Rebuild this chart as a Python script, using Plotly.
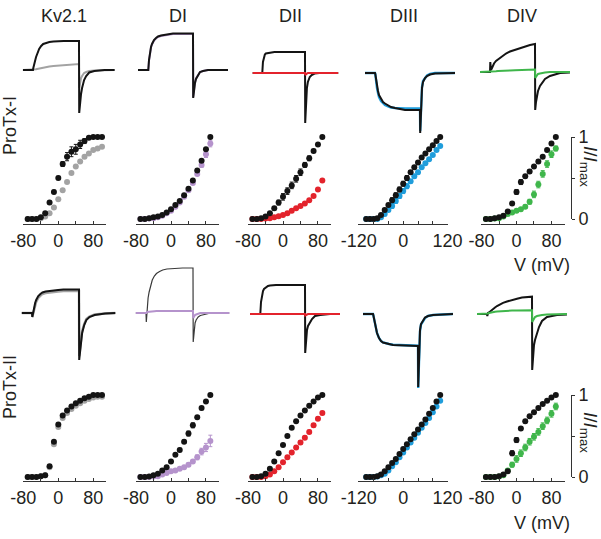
import plotly.graph_objects as go

W, H = 601, 539

# ---------------- current traces (time in ms, current in arbitrary units, + = outward) ----------------
T_MS = [0, 9.9, 10, 10.3, 11, 12, 13, 14, 16, 18, 20, 23, 26, 30, 35, 40, 45, 50, 55,
        55.2, 56, 57, 58, 60, 62, 65, 70, 80, 90]

# ProTx-I row
KV_I_CTRL = [2, 2, 2, 4, 6, 11, 15, 18, 23, 26, 28, 29, 30, 30.5, 31, 31, 31, 31, 31,
             -41, -31, -22, -16, -8, -4, -0.5, 1, 2, 2]
KV_I_TOX = [2, 2, 2, 2, 2, 2.5, 2.7, 3, 3.5, 4, 4.5, 5, 5.5, 6, 6.5, 7, 7.5, 7.8, 8,
            -16, -10, -6, -4, -1, 0, 1, 1.5, 2, 2]
DI_I_CTRL = [2, 2, 2, 2, 12, 20, 25, 28, 32, 34, 35.5, 36.5, 37, 38, 38.5, 38.5, 38.5, 38.5, 38.5,
             -26, -18, -11, -7, -3, 0, 1, 2, 2, 2]
DI_I_TOX = [2, 2, 2, 2, 11.5, 19.5, 24.5, 27.5, 31.5, 33.5, 35, 36, 36.5, 37.5, 38, 38, 38, 38, 38,
            -25, -17, -10.5, -6.5, -2.5, 0, 1, 2, 2, 2]
DII_I_CTRL = [-1, -1, -1, -1, 10, 15.5, 17.5, 18.5, 19, 19.5, 20, 20, 20, 20, 20, 20, 20, 20, 20,
              -51, -28, -16, -10, -5, -3, -1.5, -1, -1, -1]
DII_I_TOX = [-1, -1, -1, -1, -1.5, -1, -1, -1, -1, -1, -1, -1, -1, -1, -1, -1, -1, -1, -1,
             -3, -2, -1.5, -1, -1, -1, -1, -1, -1, -1]
DIII_I_CTRL = [-1, -1, -1, -2, -7, -14, -19, -23, -27, -30, -31.5, -33.5, -35, -36, -37, -38, -38, -38, -38,
               -61, -28, -16, -10, -6, -4, -2.5, -1.5, -1, -1]
DIII_I_TOX = [-1, -1, -1, -2, -9, -16, -21, -25, -29, -31.5, -33, -34.5, -35.5, -36, -36.5, -36.5, -36.5, -36.5, -36.5,
              -59, -27, -15, -9, -5.5, -3.5, -2, -1, -1, -1]
DIV_I_CTRL = [0, 0, 0, 10, 2, 4, 7, 8.5, 11, 12.5, 13.7, 16, 18.5, 20.5, 22.2, 23.7, 25.5, 27, 28,
              -38, -30, -23, -19, -14, -11, -7, -4, -1, -0.5]
DIV_I_TOX = [0, 0, 0, 0, 0, 0.2, 0.4, 0.5, 0.7, 1, 1, 1.2, 1.4, 1.5, 1.8, 2, 2.2, 2.4, 2.5,
             -6, -5, -3, -2, -1.5, -1, -0.5, 0, 0, 0]

# ProTx-II row
KV_II_CTRL = [1, 1, 1, -3, 1, 7, 11, 14, 18, 20, 21.5, 22.5, 23, 23.5, 24, 24.5, 24.5, 24.5, 24.5,
              -46, -36, -26, -19, -11, -6, -3, -1, 0.5, 1]
KV_II_TOX = [1, 1, 1, -3, 0, 5, 9, 12, 16, 18.5, 20, 21, 21.5, 22, 22.5, 23, 23, 23, 23,
             -42, -33, -24, -17, -10, -5, -2.5, -0.5, 0.5, 1]
DI_II_CTRL = [1, 1, 1, -8, 9, 16, 22, 27, 34, 38, 40.5, 42.5, 44, 45, 45.5, 46, 46, 46, 46,
              -28, -16, -9, -6, -3, -1.5, -0.5, 0.5, 1, 1]
DI_II_TOX = [1, 1, 1, 1, 2, 2.2, 2.4, 2.5, 2.7, 2.8, 3, 3, 3, 3, 3, 3, 3, 3, 3,
             -4, -2, -1, -0.5, 0.5, 1, 1, 1, 1, 1]
DII_II_CTRL = [0, 0, 0, 0, 12, 19, 23, 25, 27, 28, 28.5, 29, 29, 29, 29, 29, 29, 29, 29,
               -39, -26, -16, -12, -8, -5, -2, -1, 0, 0]
DII_II_TOX = [0, 0, 0, 0, -0.5, 0, 0, 0, 0, 0, 0, 0, 0, 0, 0, 0, 0, 0, 0,
              -1.5, -1, -0.5, 0, 0, 0, 0, 0, 0, 0]
DIII_II_CTRL = [0, 0, 0, -1, -4, -10, -15, -19, -24, -27, -28.5, -29.5, -30, -31, -31.3, -31.5, -31.7, -31.9, -32,
                -73, -31, -16, -10, -6, -3.5, -2, -1, -0.5, 0]
DIII_II_TOX = [0, 0, 0, -1, -4, -10, -15, -19, -24, -27, -28.5, -29.5, -30, -30.8, -31, -31.2, -31.4, -31.6, -31.7,
               -74, -32, -17, -10.5, -6.5, -4, -2, -1, -0.5, 0]
DIV_II_CTRL = [0, 0, 0, -2, 1, 1.5, 2.5, 3.5, 5, 6.5, 8, 10, 11.2, 12.5, 14.2, 15.3, 16.4, 17, 17.3,
               -56, -43, -31, -26, -19, -13, -7, -3, -1, -0.5]
DIV_II_TOX = [0, 0, 0, 0, 0.5, 1, 1.3, 1.5, 2, 2.3, 2.5, 2.8, 3, 3.2, 3.4, 3.5, 3.6, 3.7, 3.7,
              -8, -6, -4, -3, -2, -1.5, -1, -0.5, 0, 0]

# ---------------- G-V data (I/Imax vs V in mV) ----------------
V_KV = [-70, -60, -50, -40, -30, -20, -10, 0, 10, 20, 30, 40, 50, 60, 70, 80, 90, 100]
V_DOM = [-70, -60, -50, -40, -30, -20, -10, 0, 10, 20, 30, 40, 50, 60, 70, 80, 90]
V_DIII = [-100, -90, -80, -70, -60, -50, -40, -30, -20, -10, 0, 10, 20, 30, 40, 50, 60, 70, 80, 90, 100]

GV_KV_I_CTRL = [0, 0, 0, 0.02, 0.07, 0.2, 0.33, 0.5, 0.67, 0.76, 0.82, 0.85, 0.91, 0.95, 0.99, 1.0, 1.0, 1.0]
GV_KV_I_CTRL_ERR = [0, 0, 0, 0, 0, 0.01, 0.02, 0.02, 0.03, 0.05, 0.06, 0.06, 0.05, 0.03, 0.02, 0.01, 0.01, 0.01]
GV_KV_I_TOX = [0, 0, 0, 0.01, 0.03, 0.07, 0.14, 0.24, 0.35, 0.45, 0.56, 0.64, 0.70, 0.76, 0.80, 0.84, 0.86, 0.88]

GV_DI_I_CTRL = [0, 0, 0.01, 0.02, 0.03, 0.05, 0.08, 0.12, 0.17, 0.22, 0.29, 0.37, 0.47, 0.59, 0.71, 0.85, 1.0]
GV_DI_I_TOX = [0, 0, 0.005, 0.01, 0.02, 0.04, 0.07, 0.10, 0.15, 0.20, 0.27, 0.35, 0.44, 0.55, 0.66, 0.79, 0.92]
GV_DI_I_TOX_ERR = [0, 0, 0, 0, 0, 0, 0, 0, 0, 0, 0.01, 0.01, 0.02, 0.02, 0.03, 0.04, 0.04]

GV_DII_I_CTRL = [0, 0, 0.01, 0.03, 0.07, 0.13, 0.2, 0.27, 0.34, 0.41, 0.49, 0.57, 0.66, 0.74, 0.83, 0.91, 1.0]
GV_DII_I_CTRL_ERR = [0, 0, 0, 0, 0.01, 0.02, 0.03, 0.04, 0.04, 0.04, 0.04, 0.04, 0.03, 0.03, 0.02, 0.01, 0.01]
GV_DII_I_TOX = [0, 0, 0, 0.005, 0.01, 0.02, 0.035, 0.05, 0.07, 0.10, 0.13, 0.16, 0.19, 0.23, 0.28, 0.36, 0.47]

GV_DIII_I_CTRL = [0, 0, 0, 0.01, 0.05, 0.11, 0.17, 0.23, 0.29, 0.36, 0.43, 0.50, 0.57, 0.63, 0.69, 0.75, 0.80, 0.85, 0.90, 0.95, 1.0]
GV_DIII_I_CTRL_ERR = [0, 0, 0, 0, 0.01, 0.02, 0.02, 0.03, 0.03, 0.03, 0.03, 0.03, 0.02, 0.02, 0.02, 0.01, 0.01, 0.01, 0.01, 0.01, 0.01]
GV_DIII_I_TOX = [0, 0, 0, 0, 0.02, 0.06, 0.11, 0.16, 0.22, 0.28, 0.34, 0.40, 0.46, 0.52, 0.57, 0.63, 0.68, 0.73, 0.78, 0.84, 0.89]

GV_DIV_I_CTRL = [0, 0, 0.01, 0.02, 0.04, 0.09, 0.19, 0.33, 0.45, 0.52, 0.58, 0.64, 0.70, 0.76, 0.84, 0.92, 1.0]
GV_DIV_I_CTRL_ERR = [0, 0, 0, 0, 0, 0.01, 0.02, 0.03, 0.03, 0.02, 0.02, 0.02, 0.02, 0.01, 0.01, 0.01, 0.01]
GV_DIV_I_TOX = [0, 0, 0.005, 0.01, 0.03, 0.06, 0.08, 0.10, 0.12, 0.15, 0.21, 0.30, 0.42, 0.55, 0.67, 0.79, 0.86]
GV_DIV_I_TOX_ERR = [0, 0, 0, 0, 0, 0.01, 0.01, 0.01, 0.02, 0.02, 0.03, 0.04, 0.04, 0.04, 0.04, 0.04, 0.03]

GV_KV_II_CTRL = [0, 0, 0, 0.01, 0.02, 0.13, 0.43, 0.64, 0.75, 0.81, 0.86, 0.90, 0.93, 0.96, 0.98, 1.0, 1.0, 1.0]
GV_KV_II_TOX = [0, 0, 0, 0.01, 0.02, 0.12, 0.40, 0.61, 0.72, 0.78, 0.83, 0.87, 0.90, 0.93, 0.95, 0.97, 0.98, 0.98]

GV_DI_II_CTRL = [0, 0, 0.005, 0.02, 0.04, 0.08, 0.12, 0.19, 0.27, 0.33, 0.43, 0.53, 0.63, 0.73, 0.84, 0.92, 1.0]
GV_DI_II_CTRL_ERR = [0, 0, 0, 0, 0, 0, 0.01, 0.01, 0.01, 0.02, 0.02, 0.03, 0.03, 0.02, 0.02, 0.01, 0.01]
GV_DI_II_TOX = [0, 0, 0, 0.005, 0.01, 0.03, 0.05, 0.07, 0.08, 0.10, 0.12, 0.15, 0.19, 0.24, 0.31, 0.36, 0.44]
GV_DI_II_TOX_ERR = [0, 0, 0, 0, 0, 0.01, 0.01, 0.01, 0.01, 0.01, 0.02, 0.02, 0.02, 0.03, 0.04, 0.05, 0.07]

GV_DII_II_CTRL = [0, 0, 0.01, 0.04, 0.10, 0.19, 0.29, 0.39, 0.50, 0.60, 0.68, 0.75, 0.81, 0.87, 0.92, 0.97, 1.0]
GV_DII_II_TOX = [0, 0, 0, 0.01, 0.03, 0.07, 0.12, 0.18, 0.24, 0.30, 0.36, 0.42, 0.48, 0.55, 0.63, 0.71, 0.78]
GV_DII_II_TOX_ERR = [0, 0, 0, 0, 0, 0.01, 0.01, 0.01, 0.02, 0.02, 0.02, 0.02, 0.02, 0.02, 0.02, 0.02, 0.02]

GV_DIII_II_CTRL = [0, 0, 0, 0.01, 0.03, 0.07, 0.12, 0.17, 0.22, 0.28, 0.34, 0.40, 0.46, 0.52, 0.58, 0.64, 0.70, 0.77, 0.84, 0.92, 1.0]
GV_DIII_II_TOX = [0, 0, 0, 0.005, 0.02, 0.04, 0.08, 0.13, 0.18, 0.24, 0.30, 0.36, 0.42, 0.48, 0.54, 0.60, 0.66, 0.72, 0.79, 0.86, 0.93]

GV_DIV_II_CTRL = [0, 0, 0, 0.01, 0.03, 0.07, 0.29, 0.45, 0.59, 0.68, 0.74, 0.79, 0.84, 0.89, 0.93, 0.97, 1.0]
GV_DIV_II_CTRL_ERR = [0, 0, 0, 0, 0, 0.01, 0.03, 0.03, 0.02, 0.02, 0.01, 0.01, 0.01, 0.01, 0.01, 0.01, 0.01]
GV_DIV_II_TOX = [0, 0, 0, 0.005, 0.02, 0.08, 0.15, 0.22, 0.29, 0.36, 0.43, 0.49, 0.55, 0.62, 0.69, 0.77, 0.86]
GV_DIV_II_TOX_ERR = [0, 0, 0, 0, 0.01, 0.02, 0.03, 0.04, 0.04, 0.04, 0.04, 0.04, 0.04, 0.04, 0.04, 0.04, 0.04]

COLUMN_TITLES = ["Kv2.1", "DI", "DII", "DIII", "DIV"]
ROW_TITLES = ["ProTx-I", "ProTx-II"]
TICKS_80 = [-80, 0, 80]
MINOR_80 = [-40, 40]
TICKS_120 = [-120, 0, 120]
MINOR_120 = [-80, -40, 40, 80]

# ---------------- styling ----------------
BLACK = "#141414"
GRAY = "#a3a3a3"
PURPLE = "#b593cc"
RED = "#e3232c"
BLUE = "#1f9ddb"
GREEN = "#3fb64b"
TEXT = "#231f20"
FONT = "Liberation Sans, Arial, sans-serif"

def pxx(x):
    return x / W

def pyy(y):
    return 1 - y / H

fig = go.Figure()
layout = {}

def axname(k):
    return ("x" if k == 1 else f"x{k}"), ("y" if k == 1 else f"y{k}")

def laykey(k):
    return ("xaxis" if k == 1 else f"xaxis{k}"), ("yaxis" if k == 1 else f"yaxis{k}")

# trace panels: pixel positions of pulse on / off (layout only)
STEP_PX = {0: [33, 148, 262, 375, 490], 2: [32, 146, 260, 373, 487]}
END_PX = {0: [79, 193, 305, 420, 535], 2: [79, 193, 305, 418, 532]}
T_ON, T_OFF, T_END = 10, 55, 90
TRACE_Y = {0: (0, 140, 72), 2: (250, 400, 314)}  # top px, bottom px, baseline px

TRACE_SETS = {
    0: [
        [(KV_I_TOX, GRAY, 2), (KV_I_CTRL, BLACK, 2)],
        [(DI_I_TOX, PURPLE, 2), (DI_I_CTRL, BLACK, 2)],
        [(DII_I_CTRL, BLACK, 2), (DII_I_TOX, RED, 2)],
        [(DIII_I_TOX, BLUE, 2.4), (DIII_I_CTRL, BLACK, 2)],
        [(DIV_I_CTRL, BLACK, 2), (DIV_I_TOX, GREEN, 2)],
    ],
    2: [
        [(KV_II_TOX, GRAY, 2.4), (KV_II_CTRL, BLACK, 2)],
        [(DI_II_CTRL, "#3a3a3a", 1.2), (DI_II_TOX, PURPLE, 2)],
        [(DII_II_CTRL, BLACK, 2), (DII_II_TOX, RED, 2)],
        [(DIII_II_TOX, BLUE, 2.4), (DIII_II_CTRL, BLACK, 2)],
        [(DIV_II_CTRL, BLACK, 2), (DIV_II_TOX, GREEN, 2)],
    ],
}

GV_SETS = {
    1: [
        (V_KV, [(GV_KV_I_TOX, None, GRAY), (GV_KV_I_CTRL, GV_KV_I_CTRL_ERR, BLACK)]),
        (V_DOM, [(GV_DI_I_TOX, GV_DI_I_TOX_ERR, PURPLE), (GV_DI_I_CTRL, None, BLACK)]),
        (V_DOM, [(GV_DII_I_TOX, None, RED), (GV_DII_I_CTRL, GV_DII_I_CTRL_ERR, BLACK)]),
        (V_DIII, [(GV_DIII_I_TOX, GV_DIII_I_CTRL_ERR, BLUE), (GV_DIII_I_CTRL, GV_DIII_I_CTRL_ERR, BLACK)]),
        (V_DOM, [(GV_DIV_I_TOX, GV_DIV_I_TOX_ERR, GREEN), (GV_DIV_I_CTRL, GV_DIV_I_CTRL_ERR, BLACK)]),
    ],
    3: [
        (V_KV, [(GV_KV_II_TOX, None, GRAY), (GV_KV_II_CTRL, None, BLACK)]),
        (V_DOM, [(GV_DI_II_TOX, GV_DI_II_TOX_ERR, PURPLE), (GV_DI_II_CTRL, GV_DI_II_CTRL_ERR, BLACK)]),
        (V_DOM, [(GV_DII_II_TOX, GV_DII_II_TOX_ERR, RED), (GV_DII_II_CTRL, None, BLACK)]),
        (V_DIII, [(GV_DIII_II_TOX, None, BLUE), (GV_DIII_II_CTRL, None, BLACK)]),
        (V_DOM, [(GV_DIV_II_TOX, GV_DIV_II_TOX_ERR, GREEN), (GV_DIV_II_CTRL, GV_DIV_II_CTRL_ERR, BLACK)]),
    ],
}

# G-V axes geometry (layout only)
GV_ZERO_PX = [58.3, 171, 283, 403.2, 516.5]   # x pixel of 0 mV
GV_SCALE = [0.437, 0.437, 0.437, 0.37, 0.437]  # px per mV
GV_RANGE = [(-80.5, 110), (-80.5, 110), (-80.5, 110), (-121, 121), (-80.5, 110)]
GV_TICKS = [(TICKS_80, MINOR_80)] * 3 + [(TICKS_120, MINOR_120), (TICKS_80, MINOR_80)]
GV_Y = {1: (219, 137, 224), 3: (477, 395, 481)}  # px of 0, px of 1, axis line px

for r in range(4):
    for c in range(5):
        k = r * 5 + c + 1
        xa, ya = axname(k)
        xk, yk = laykey(k)
        if r in (0, 2):
            s, e = STEP_PX[r][c], END_PX[r][c]
            sc = (e - s) / (T_OFF - T_ON)
            left = s - T_ON * sc
            right = left + T_END * sc
            top, bot, base = TRACE_Y[r]
            layout[xk] = dict(domain=[pxx(left), pxx(right)], range=[0, T_END], visible=False,
                              anchor=ya, fixedrange=True)
            layout[yk] = dict(domain=[pyy(bot), pyy(top)], range=[base - bot, base - top],
                              visible=False, anchor=xa, fixedrange=True)
            for vals, col, wd in TRACE_SETS[r][c]:
                fig.add_trace(go.Scatter(x=T_MS, y=vals, mode="lines", xaxis=xa, yaxis=ya,
                                         line=dict(color=col, width=wd), hoverinfo="skip",
                                         cliponaxis=False))
        else:
            z0, z1, axis_px = GV_Y[r]
            lo, hi = GV_RANGE[c]
            left = GV_ZERO_PX[c] + lo * GV_SCALE[c]
            right = GV_ZERO_PX[c] + hi * GV_SCALE[c]
            tv, mv = GV_TICKS[c]
            layout[xk] = dict(domain=[pxx(left), pxx(right)], range=[lo, hi], anchor="free",
                              position=pyy(axis_px), showline=True, linecolor="#333", linewidth=1,
                              ticks="inside", ticklen=3, tickcolor="#333", tickmode="array",
                              tickvals=tv, ticktext=[str(v) for v in tv],
                              minor=dict(tickmode="array", tickvals=mv, ticks="inside", ticklen=3,
                                         tickcolor="#333", showgrid=False),
                              showgrid=False, zeroline=False, automargin=False,
                              tickfont=dict(size=18, color=TEXT, family=FONT), fixedrange=True)
            ydict = dict(domain=[pyy(z0), pyy(z1)], range=[0, 1], anchor=xa, showgrid=False,
                         zeroline=False, fixedrange=True, automargin=False)
            if c == 4:
                ydict.update(visible=True, side="right", anchor="free", position=pxx(571),
                             showline=True, linecolor="#333", linewidth=1, ticks="outside",
                             ticklen=3, tickcolor="#333", tickmode="array", tickvals=[0, 1],
                             ticktext=["0", "1"],
                             minor=dict(tickmode="array", tickvals=[0.5], ticks="outside",
                                        ticklen=3, tickcolor="#333", showgrid=False),
                             tickfont=dict(size=18, color=TEXT, family=FONT))
            else:
                ydict.update(visible=False)
            layout[yk] = ydict
            volts, series = GV_SETS[r][c]
            for vals, err, col in series:
                kw = {}
                if err is not None:
                    kw["error_y"] = dict(type="data", array=err, thickness=1, width=2, color=col)
                fig.add_trace(go.Scatter(x=volts, y=vals, mode="markers", xaxis=xa, yaxis=ya,
                                         marker=dict(size=6, color=col, line=dict(width=0)),
                                         hoverinfo="skip", cliponaxis=False, **kw))

# ---------------- annotations ----------------
ann = []
TITLE_X = [64, 178, 290, 404, 522]
for name, x in zip(COLUMN_TITLES, TITLE_X):
    ann.append(dict(text=name, x=pxx(x), y=pyy(16), xref="paper", yref="paper",
                    showarrow=False, xanchor="center", yanchor="middle",
                    font=dict(size=18, color=TEXT, family=FONT)))
for name, y in zip(ROW_TITLES, [126, 387]):
    ann.append(dict(text=name, x=pxx(10), y=pyy(y), xref="paper", yref="paper",
                    showarrow=False, xanchor="center", yanchor="middle", textangle=-90,
                    font=dict(size=18, color=TEXT, family=FONT)))
for y in [265, 523]:
    ann.append(dict(text="V (mV)", x=pxx(542), y=pyy(y), xref="paper", yref="paper",
                    showarrow=False, xanchor="center", yanchor="middle",
                    font=dict(size=18, color=TEXT, family=FONT)))
for y in [166, 432]:
    ann.append(dict(text="<i>I</i>/<i>I</i><sub>max</sub>", x=pxx(589), y=pyy(y),
                    xref="paper", yref="paper", showarrow=False, xanchor="center",
                    yanchor="middle", textangle=90,
                    font=dict(size=19, color=TEXT, family=FONT)))

layout.update(width=W, height=H, margin=dict(l=0, r=0, t=0, b=0, pad=0, autoexpand=False),
              paper_bgcolor="white", plot_bgcolor="white", showlegend=False,
              font=dict(family=FONT, size=18, color=TEXT), annotations=ann)
fig.update_layout(**layout)
fig.write_html("out.html", config={"displayModeBar": False, "staticPlot": True},
               post_script="document.body.style.margin='0';document.body.style.overflow='hidden';")
